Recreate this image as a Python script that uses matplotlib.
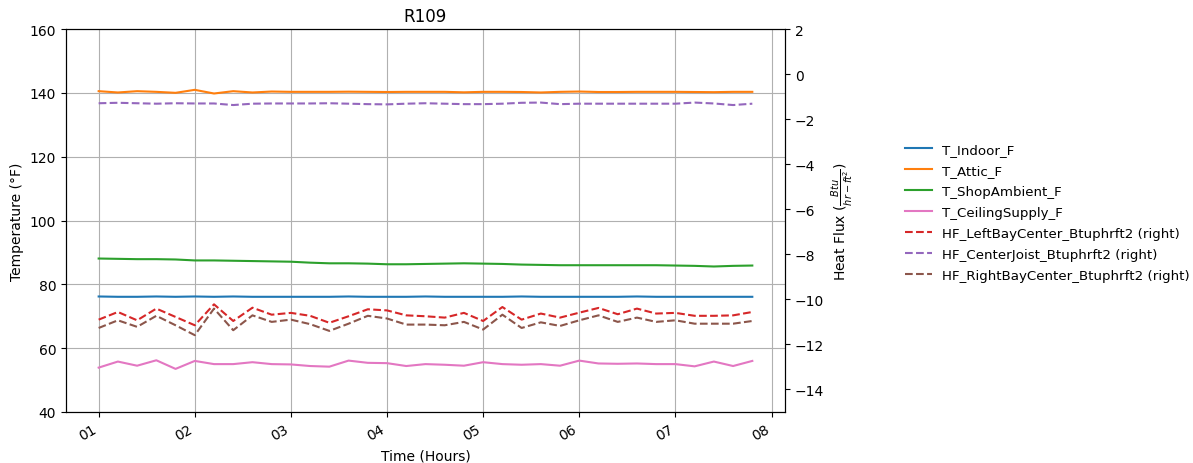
import numpy as np
import pandas as pd
import matplotlib
matplotlib.use('Agg')
import matplotlib.pyplot as plt
import matplotlib.dates as mdates

# 12-minute readings, 01:00 to 07:48
times = pd.date_range('2023-07-01 01:00', periods=35, freq='12min')

# temperatures (F), left axis
t_indoor = [76.2, 76.1, 76.1, 76.2, 76.1, 76.2, 76.1, 76.2, 76.1, 76.1, 76.1, 76.1, 76.1, 76.2, 76.1,
            76.1, 76.1, 76.2, 76.1, 76.1, 76.1, 76.1, 76.2, 76.1, 76.1, 76.1, 76.1, 76.1, 76.2, 76.1,
            76.1, 76.1, 76.1, 76.1, 76.1]
t_attic = [140.56, 140.15, 140.56, 140.35, 140.04, 140.98, 139.83, 140.56, 140.15, 140.45, 140.35, 140.35,
           140.35, 140.4, 140.35, 140.3, 140.35, 140.35, 140.35, 140.2, 140.35, 140.35, 140.3, 140.15,
           140.35, 140.45, 140.3, 140.3, 140.35, 140.35, 140.35, 140.3, 140.25, 140.35, 140.35]
t_shop = [88.1, 88.0, 87.9, 87.9, 87.8, 87.5, 87.5, 87.4, 87.3, 87.2, 87.1, 86.8, 86.6, 86.6, 86.5,
          86.3, 86.3, 86.4, 86.5, 86.6, 86.5, 86.4, 86.2, 86.1, 86.0, 86.0, 86.0, 86.0, 86.0, 86.0,
          85.9, 85.8, 85.6, 85.8, 85.9]
t_ceiling = [53.9, 55.8, 54.5, 56.2, 53.5, 56.0, 55.0, 55.0, 55.6, 55.0, 54.9, 54.4, 54.2, 56.1, 55.4,
             55.3, 54.4, 55.0, 54.8, 54.5, 55.6, 55.0, 54.8, 55.0, 54.5, 56.1, 55.2, 55.1, 55.2, 55.0,
             55.0, 54.3, 55.8, 54.4, 56.0]

# heat flux (Btu/hr-ft2), right axis
hf_left = [-10.90, -10.56, -10.93, -10.41, -10.78, -11.15, -10.22, -10.96, -10.37, -10.68, -10.60, -10.73,
           -11.04, -10.75, -10.44, -10.49, -10.71, -10.75, -10.81, -10.60, -10.96, -10.34, -10.90, -10.63,
           -10.81, -10.59, -10.38, -10.66, -10.41, -10.63, -10.60, -10.73, -10.73, -10.71, -10.56]
hf_center = [-1.29, -1.27, -1.29, -1.31, -1.29, -1.30, -1.30, -1.37, -1.31, -1.30, -1.30, -1.30,
             -1.29, -1.31, -1.33, -1.34, -1.31, -1.29, -1.31, -1.33, -1.33, -1.31, -1.27, -1.26,
             -1.33, -1.31, -1.31, -1.31, -1.31, -1.31, -1.31, -1.26, -1.30, -1.37, -1.31]
hf_right = [-11.27, -10.93, -11.22, -10.73, -11.15, -11.59, -10.41, -11.37, -10.71, -11.00, -10.90, -11.10,
            -11.40, -11.08, -10.73, -10.85, -11.12, -11.12, -11.15, -11.00, -11.34, -10.68, -11.27, -11.02,
            -11.18, -10.93, -10.71, -11.00, -10.81, -11.00, -10.93, -11.08, -11.08, -11.08, -10.96]

fig, ax = plt.subplots(figsize=(11.93, 4.64), dpi=100)
fig.subplots_adjust(left=0.0553, right=0.658, top=0.935, bottom=0.11)
ax2 = ax.twinx()

ax.plot(times, t_indoor, color='C0', label='T_Indoor_F')
ax.plot(times, t_attic, color='C1', label='T_Attic_F')
ax.plot(times, t_shop, color='C2', label='T_ShopAmbient_F')
ax.plot(times, t_ceiling, color='C6', label='T_CeilingSupply_F')

ax2.plot(times, hf_left, color='C3', ls='--', label='HF_LeftBayCenter_Btuphrft2 (right)')
ax2.plot(times, hf_center, color='C4', ls='--', label='HF_CenterJoist_Btuphrft2 (right)')
ax2.plot(times, hf_right, color='C5', ls='--', label='HF_RightBayCenter_Btuphrft2 (right)')

ax.set_ylim(40, 160)
ax2.set_ylim(-15, 2)
ax.grid(True)

ax.xaxis.set_major_locator(mdates.HourLocator())
ax.xaxis.set_major_formatter(mdates.DateFormatter('%H'))
plt.setp(ax.get_xticklabels(), rotation=30, ha='right')

ax.set_title('R109')
ax.set_xlabel('Time (Hours)')
ax.set_ylabel('Temperature (°F)')
ax2.set_ylabel(r'Heat Flux ($\frac{Btu}{hr-ft^2}$)')

h1, l1 = ax.get_legend_handles_labels()
h2, l2 = ax2.get_legend_handles_labels()
fig.legend(h1 + h2, l1 + l2, loc='center left', bbox_to_anchor=(0.7485, 0.54),
           frameon=False, fontsize=9.6, labelspacing=0.6)

fig.savefig('out.png')
